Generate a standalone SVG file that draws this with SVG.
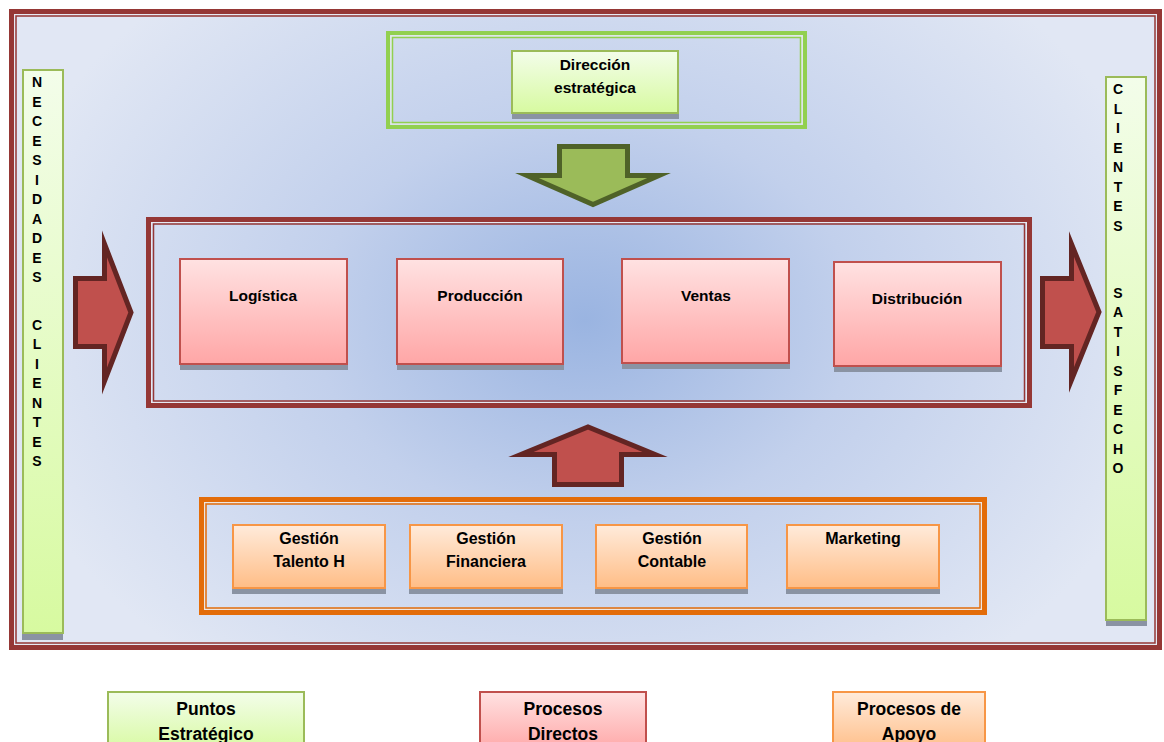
<svg xmlns="http://www.w3.org/2000/svg" width="1164" height="742" viewBox="0 0 1164 742">
<defs>
<radialGradient id="bg" gradientUnits="userSpaceOnUse" cx="585" cy="320" r="600" gradientTransform="translate(585 320) scale(1 0.75) translate(-585 -320)">
<stop offset="0" stop-color="#9AB4E1"/>
<stop offset="0.45" stop-color="#C2D0EC"/>
<stop offset="1" stop-color="#E1E7F4"/>
</radialGradient>
<linearGradient id="gRed" x1="0" y1="0" x2="0" y2="1"><stop offset="0" stop-color="#FFE2E2"/><stop offset="1" stop-color="#FFA6A6"/></linearGradient>
<linearGradient id="gGreen" x1="0" y1="0" x2="0" y2="1"><stop offset="0" stop-color="#F3FDEA"/><stop offset="1" stop-color="#D7FAA0"/></linearGradient>
<linearGradient id="gOrange" x1="0" y1="0" x2="0" y2="1"><stop offset="0" stop-color="#FFEBDB"/><stop offset="1" stop-color="#FFBD86"/></linearGradient>
</defs>
<style>
text{font-family:"Liberation Sans",Arial,sans-serif;font-weight:bold;fill:#000;}
.t{font-size:15.5px;text-anchor:middle;}
.to{font-size:16px;text-anchor:middle;}
.tl{font-size:17.5px;text-anchor:middle;}
.v{font-size:14px;text-anchor:middle;}
.sh{fill:#8A93A3;}
.red{fill:url(#gRed);stroke:#C0504D;stroke-width:2;}
.grn{fill:url(#gGreen);stroke:#9BBB59;stroke-width:2;}
.org{fill:url(#gOrange);stroke:#F79646;stroke-width:2;}
.arR{fill:#C0504D;stroke:#632523;stroke-width:5;stroke-linejoin:miter;stroke-miterlimit:10;}
.arG{fill:#9BBB59;stroke:#4F6228;stroke-width:5;stroke-linejoin:miter;stroke-miterlimit:10;}
</style>
<rect x="0" y="0" width="1164" height="742" fill="#FFFFFF"/>

<g id="frame">
<rect x="9" y="9" width="1153" height="641" fill="url(#bg)"/>
<rect x="11.5" y="11.5" width="1148" height="636" fill="none" stroke="#953735" stroke-width="5"/>
<rect x="14.5" y="14.5" width="1142" height="630" fill="none" stroke="#E6E9F2" stroke-width="1"/>
<rect x="16" y="16" width="1139" height="627" fill="none" stroke="#953735" stroke-width="1.5"/>
</g>

<g id="necesidades">
<rect class="sh" x="22" y="74" width="41" height="566"/>
<rect class="grn" x="23" y="70" width="40" height="563"/>
<text class="v" x="37" y="87">N</text>
<text class="v" x="37" y="106.5">E</text>
<text class="v" x="37" y="126">C</text>
<text class="v" x="37" y="145.5">E</text>
<text class="v" x="37" y="165">S</text>
<text class="v" x="37" y="184.5">I</text>
<text class="v" x="37" y="204">D</text>
<text class="v" x="37" y="223.5">A</text>
<text class="v" x="37" y="243">D</text>
<text class="v" x="37" y="262.5">E</text>
<text class="v" x="37" y="282">S</text>
<text class="v" x="37" y="330">C</text>
<text class="v" x="37" y="349">L</text>
<text class="v" x="37" y="368.5">I</text>
<text class="v" x="37" y="388">E</text>
<text class="v" x="37" y="407.5">N</text>
<text class="v" x="37" y="427">T</text>
<text class="v" x="37" y="446.5">E</text>
<text class="v" x="37" y="466">S</text>
</g>

<g id="clientes">
<rect class="sh" x="1106" y="81" width="41" height="545"/>
<rect class="grn" x="1106" y="77" width="40" height="543"/>
<text class="v" x="1118" y="94">C</text>
<text class="v" x="1118" y="113.5">L</text>
<text class="v" x="1118" y="133">I</text>
<text class="v" x="1118" y="152.5">E</text>
<text class="v" x="1118" y="172">N</text>
<text class="v" x="1118" y="191.5">T</text>
<text class="v" x="1118" y="211">E</text>
<text class="v" x="1118" y="230.5">S</text>
<text class="v" x="1118" y="297.5">S</text>
<text class="v" x="1118" y="317">A</text>
<text class="v" x="1118" y="336.5">T</text>
<text class="v" x="1118" y="356">I</text>
<text class="v" x="1118" y="375.5">S</text>
<text class="v" x="1118" y="395">F</text>
<text class="v" x="1118" y="414.5">E</text>
<text class="v" x="1118" y="434">C</text>
<text class="v" x="1118" y="453.5">H</text>
<text class="v" x="1118" y="473">O</text>
</g>

<g id="estrategico">
<rect x="388" y="33" width="417" height="94" fill="none" stroke="#92D050" stroke-width="4"/>
<rect x="391" y="36" width="411" height="88" fill="none" stroke="#EEF3E4" stroke-width="1"/>
<rect x="392.5" y="37.5" width="408" height="85" fill="none" stroke="#92D050" stroke-width="1.5"/>
</g>

<g id="direccion">
<rect class="sh" x="512" y="56" width="167" height="63"/>
<rect class="grn" x="512" y="51" width="166" height="62"/>
<text class="t" x="595" y="70">Dirección</text>
<text class="t" x="595" y="93">estratégica</text>
</g>

<g id="directos">
<rect x="148.5" y="219.5" width="881" height="186" fill="none" stroke="#953735" stroke-width="5"/>
<rect x="151.5" y="222.5" width="875" height="180" fill="none" stroke="#E6E9F2" stroke-width="1"/>
<rect x="153.5" y="224" width="871" height="177" fill="none" stroke="#953735" stroke-width="1.5"/>
</g>

<g id="logistica">
<rect class="sh" x="180" y="264" width="168" height="106"/>
<rect class="red" x="180" y="259" width="167" height="105"/>
<text class="t" x="263" y="301">Logística</text>
</g>
<g id="produccion">
<rect class="sh" x="397" y="264" width="167" height="106"/>
<rect class="red" x="397" y="259" width="166" height="105"/>
<text class="t" x="480" y="301">Producción</text>
</g>
<g id="ventas">
<rect class="sh" x="622" y="264" width="168" height="105"/>
<rect class="red" x="622" y="259" width="167" height="104"/>
<text class="t" x="706" y="301">Ventas</text>
</g>
<g id="distribucion">
<rect class="sh" x="834" y="267" width="168" height="105"/>
<rect class="red" x="834" y="262" width="167" height="104"/>
<text class="t" x="917" y="304">Distribución</text>
</g>

<g id="apoyo">
<rect x="201.5" y="499.5" width="783" height="113" fill="none" stroke="#E36C09" stroke-width="5"/>
<rect x="204.5" y="502.5" width="777" height="107" fill="none" stroke="#EEE6E0" stroke-width="1"/>
<rect x="206" y="504" width="774" height="104" fill="none" stroke="#E36C09" stroke-width="1.5"/>
</g>

<g id="talento">
<rect class="sh" x="232" y="530" width="154" height="64"/>
<rect class="org" x="233" y="525" width="152" height="63"/>
<text class="to" x="309" y="544">Gestión</text>
<text class="to" x="309" y="567">Talento H</text>
</g>
<g id="financiera">
<rect class="sh" x="409" y="530" width="154" height="64"/>
<rect class="org" x="410" y="525" width="152" height="63"/>
<text class="to" x="486" y="544">Gestión</text>
<text class="to" x="486" y="567">Financiera</text>
</g>
<g id="contable">
<rect class="sh" x="595" y="530" width="153" height="64"/>
<rect class="org" x="596" y="525" width="151" height="63"/>
<text class="to" x="672" y="544">Gestión</text>
<text class="to" x="672" y="567">Contable</text>
</g>
<g id="marketing">
<rect class="sh" x="786" y="530" width="154" height="64"/>
<rect class="org" x="787" y="525" width="152" height="63"/>
<text class="to" x="863" y="544">Marketing</text>
</g>

<g id="connectors">
<path class="arG" d="M559.5 146.5 H627.5 V175.5 H659 L593 204.5 L527 175.5 H559.5 Z"/>
<path class="arR" d="M75.5 278.5 H104.5 V244 L131 312.5 L104.5 381 V346.5 H75.5 Z"/>
<path class="arR" d="M1042.5 278.5 H1071.5 V244 L1099 312 L1071.5 380 V346.5 H1042.5 Z"/>
<path class="arR" d="M554.5 484.5 V454.5 H521 L588 427 L655 454.5 H621.5 V484.5 Z"/>
</g>

<g id="leyenda-puntos">
<rect class="grn" x="108" y="692" width="196" height="60"/>
<text class="tl" x="206" y="715">Puntos</text>
<text class="tl" x="206" y="740">Estratégico</text>
</g>
<g id="leyenda-directos">
<rect class="red" x="480" y="692" width="166" height="60"/>
<text class="tl" x="563" y="715">Procesos</text>
<text class="tl" x="563" y="740">Directos</text>
</g>
<g id="leyenda-apoyo">
<rect class="org" x="833" y="692" width="152" height="60"/>
<text class="tl" x="909" y="715">Procesos de</text>
<text class="tl" x="909" y="740">Apoyo</text>
</g>
</svg>
